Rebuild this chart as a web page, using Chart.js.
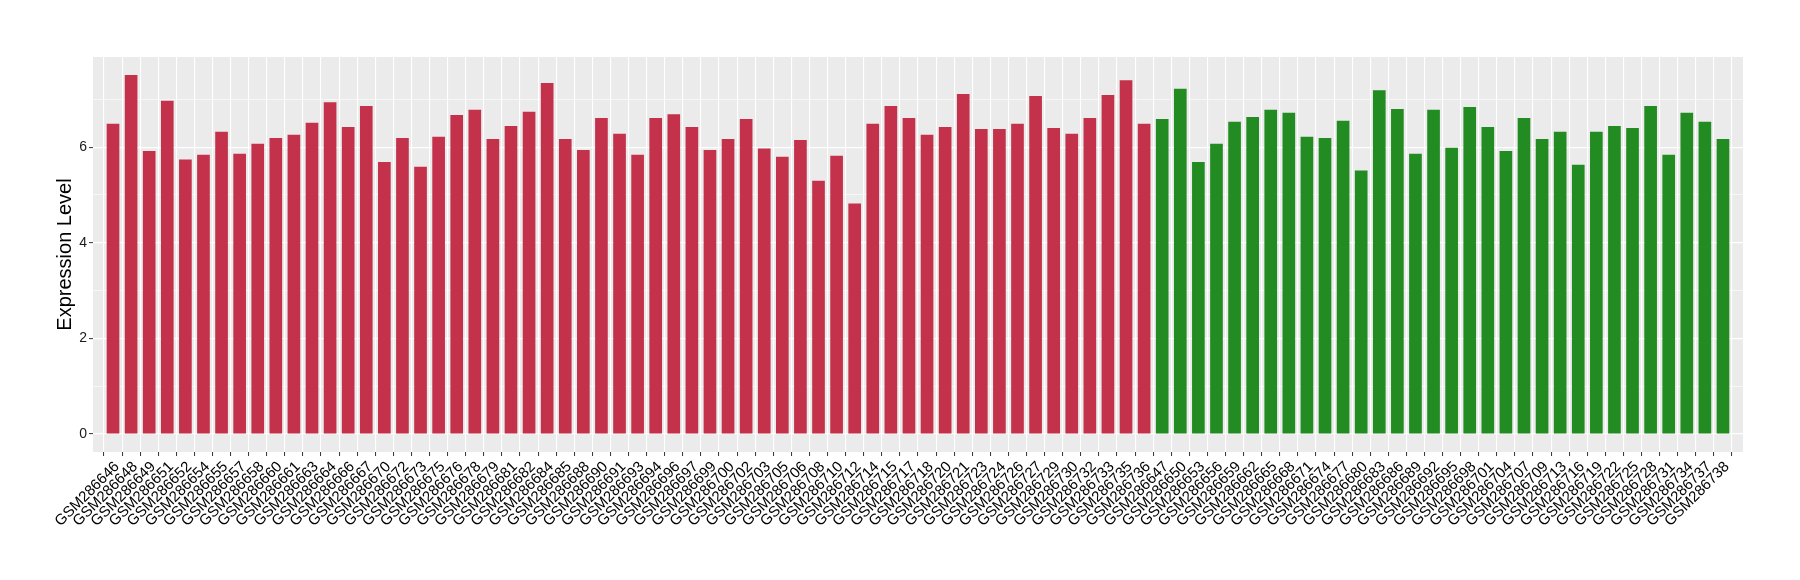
<!DOCTYPE html>
<html>
<head>
<meta charset="utf-8">
<script src="https://cdn.jsdelivr.net/npm/chart.js@4/dist/chart.umd.min.js"></script>
<style>
  html, body { margin: 0; padding: 0; background: #ffffff; }
  #wrap { width: 1800px; height: 580px; }
</style>
</head>
<body>
<div id="wrap"><canvas id="chart" width="1800" height="580"></canvas></div>
<script>
const redLabels = [
  'GSM286646', 'GSM286648', 'GSM286649', 'GSM286651', 'GSM286652', 'GSM286654',
  'GSM286655', 'GSM286657', 'GSM286658', 'GSM286660', 'GSM286661', 'GSM286663',
  'GSM286664', 'GSM286666', 'GSM286667', 'GSM286670', 'GSM286672', 'GSM286673',
  'GSM286675', 'GSM286676', 'GSM286678', 'GSM286679', 'GSM286681', 'GSM286682',
  'GSM286684', 'GSM286685', 'GSM286688', 'GSM286690', 'GSM286691', 'GSM286693',
  'GSM286694', 'GSM286696', 'GSM286697', 'GSM286699', 'GSM286700', 'GSM286702',
  'GSM286703', 'GSM286705', 'GSM286706', 'GSM286708', 'GSM286710', 'GSM286712',
  'GSM286714', 'GSM286715', 'GSM286717', 'GSM286718', 'GSM286720', 'GSM286721',
  'GSM286723', 'GSM286724', 'GSM286726', 'GSM286727', 'GSM286729', 'GSM286730',
  'GSM286732', 'GSM286733', 'GSM286735', 'GSM286736',
]
const redValues = [
  6.49, 7.51, 5.92, 6.97, 5.74, 5.84, 6.32, 5.86, 6.07, 6.19, 6.26, 6.51,
  6.94, 6.42, 6.86, 5.69, 6.19, 5.59, 6.22, 6.67, 6.78, 6.17, 6.44, 6.74,
  7.34, 6.17, 5.94, 6.61, 6.28, 5.84, 6.61, 6.69, 6.42, 5.94, 6.17, 6.59,
  5.97, 5.80, 6.15, 5.30, 5.82, 4.82, 6.49, 6.86, 6.61, 6.26, 6.42, 7.11,
  6.38, 6.38, 6.49, 7.07, 6.40, 6.28, 6.61, 7.09, 7.40, 6.49,
]
const greenLabels = [
  'GSM286647', 'GSM286650', 'GSM286653', 'GSM286656', 'GSM286659', 'GSM286662',
  'GSM286665', 'GSM286668', 'GSM286671', 'GSM286674', 'GSM286677', 'GSM286680',
  'GSM286683', 'GSM286686', 'GSM286689', 'GSM286692', 'GSM286695', 'GSM286698',
  'GSM286701', 'GSM286704', 'GSM286707', 'GSM286709', 'GSM286713', 'GSM286716',
  'GSM286719', 'GSM286722', 'GSM286725', 'GSM286728', 'GSM286731', 'GSM286734',
  'GSM286737', 'GSM286738',
]
const greenValues = [
  6.59, 7.22, 5.69, 6.07, 6.53, 6.63, 6.78, 6.72, 6.22, 6.19, 6.55, 5.51,
  7.19, 6.80, 5.86, 6.78, 5.99, 6.84, 6.42, 5.92, 6.61, 6.17, 6.32, 5.63,
  6.32, 6.44, 6.40, 6.86, 5.84, 6.72, 6.53, 6.17,
]
const yTicks = [0, 1, 2, 3, 4, 5, 6, 7]

const allLabels = redLabels.concat(greenLabels)
const fontFamily = '"Liberation Sans", Arial, Helvetica, sans-serif'

// ggplot-like expansion: 0.6 category units on x, 5% on y
const yMax = Math.max(...redValues, ...greenValues) * 1.05
const yMin = -Math.max(...redValues, ...greenValues) * 0.05

const redData = redValues.map((v, i) => ({ x: i, y: v }))
const greenData = greenValues.map((v, i) => ({ x: redValues.length + i, y: v }))

const panelBackground = {
  id: 'panelBackground',
  beforeDraw (chart) {
    const { ctx, chartArea } = chart
    ctx.save()
    ctx.fillStyle = '#EBEBEB'
    ctx.fillRect(chartArea.left, chartArea.top, chartArea.right - chartArea.left, chartArea.bottom - chartArea.top)
    ctx.restore()
  },
}

const config = {
  type: 'bar',
  data: {
    datasets: [
      {
        data: redData,
        backgroundColor: '#C3314A',
        barPercentage: 0.7,
        categoryPercentage: 1,
        grouped: false,
      },
      {
        data: greenData,
        backgroundColor: '#228B22',
        barPercentage: 0.7,
        categoryPercentage: 1,
        grouped: false,
      },
    ],
  },
  options: {
    responsive: false,
    animation: false,
    layout: {
      padding: { top: 57, right: 57, bottom: 0, left: 0 },
    },
    plugins: {
      legend: { display: false },
      tooltip: { enabled: false },
    },
    scales: {
      x: {
        type: 'linear',
        min: -0.6,
        max: allLabels.length - 1 + 0.6,
        afterBuildTicks (scale) {
          scale.ticks = allLabels.map((_, i) => ({ value: i }))
        },
        afterFit (scale) {
          scale.height = 128
        },
        border: { display: false },
        grid: {
          color: '#FFFFFF',
          lineWidth: 1.1,
          tickColor: '#333333',
          tickLength: 4,
          tickWidth: 1,
        },
        ticks: {
          autoSkip: false,
          minRotation: 45,
          maxRotation: 45,
          padding: 2,
          labelOffset: 4,
          color: '#000000',
          font: { family: fontFamily, size: 15 },
          callback: (value) => allLabels[value],
        },
      },
      y: {
        min: yMin,
        max: yMax,
        afterBuildTicks (scale) {
          scale.ticks = yTicks.map((v) => ({ value: v }))
        },
        afterFit (scale) {
          scale.width = 93
        },
        border: { display: false },
        grid: {
          color: '#FFFFFF',
          lineWidth: (c) => (c.tick && c.tick.value % 2 === 0 ? 1.2 : 0.6),
          tickColor: (c) => (c.tick && c.tick.value % 2 === 0 ? '#333333' : 'rgba(0,0,0,0)'),
          tickLength: 4,
          tickWidth: 1,
        },
        ticks: {
          padding: 2,
          color: '#1A1A1A',
          font: { family: fontFamily, size: 14 },
          callback: (value) => (value % 2 === 0 ? String(value) : ''),
        },
        title: {
          display: true,
          text: 'Expression Level',
          color: '#000000',
          font: { family: fontFamily, size: 20 },
          padding: { top: 53, bottom: 0 },
        },
      },
    },
  },
  plugins: [panelBackground],
}

const ctx = document.getElementById('chart').getContext('2d')
const myChart = new Chart(ctx, config)
</script>
</body>
</html>
